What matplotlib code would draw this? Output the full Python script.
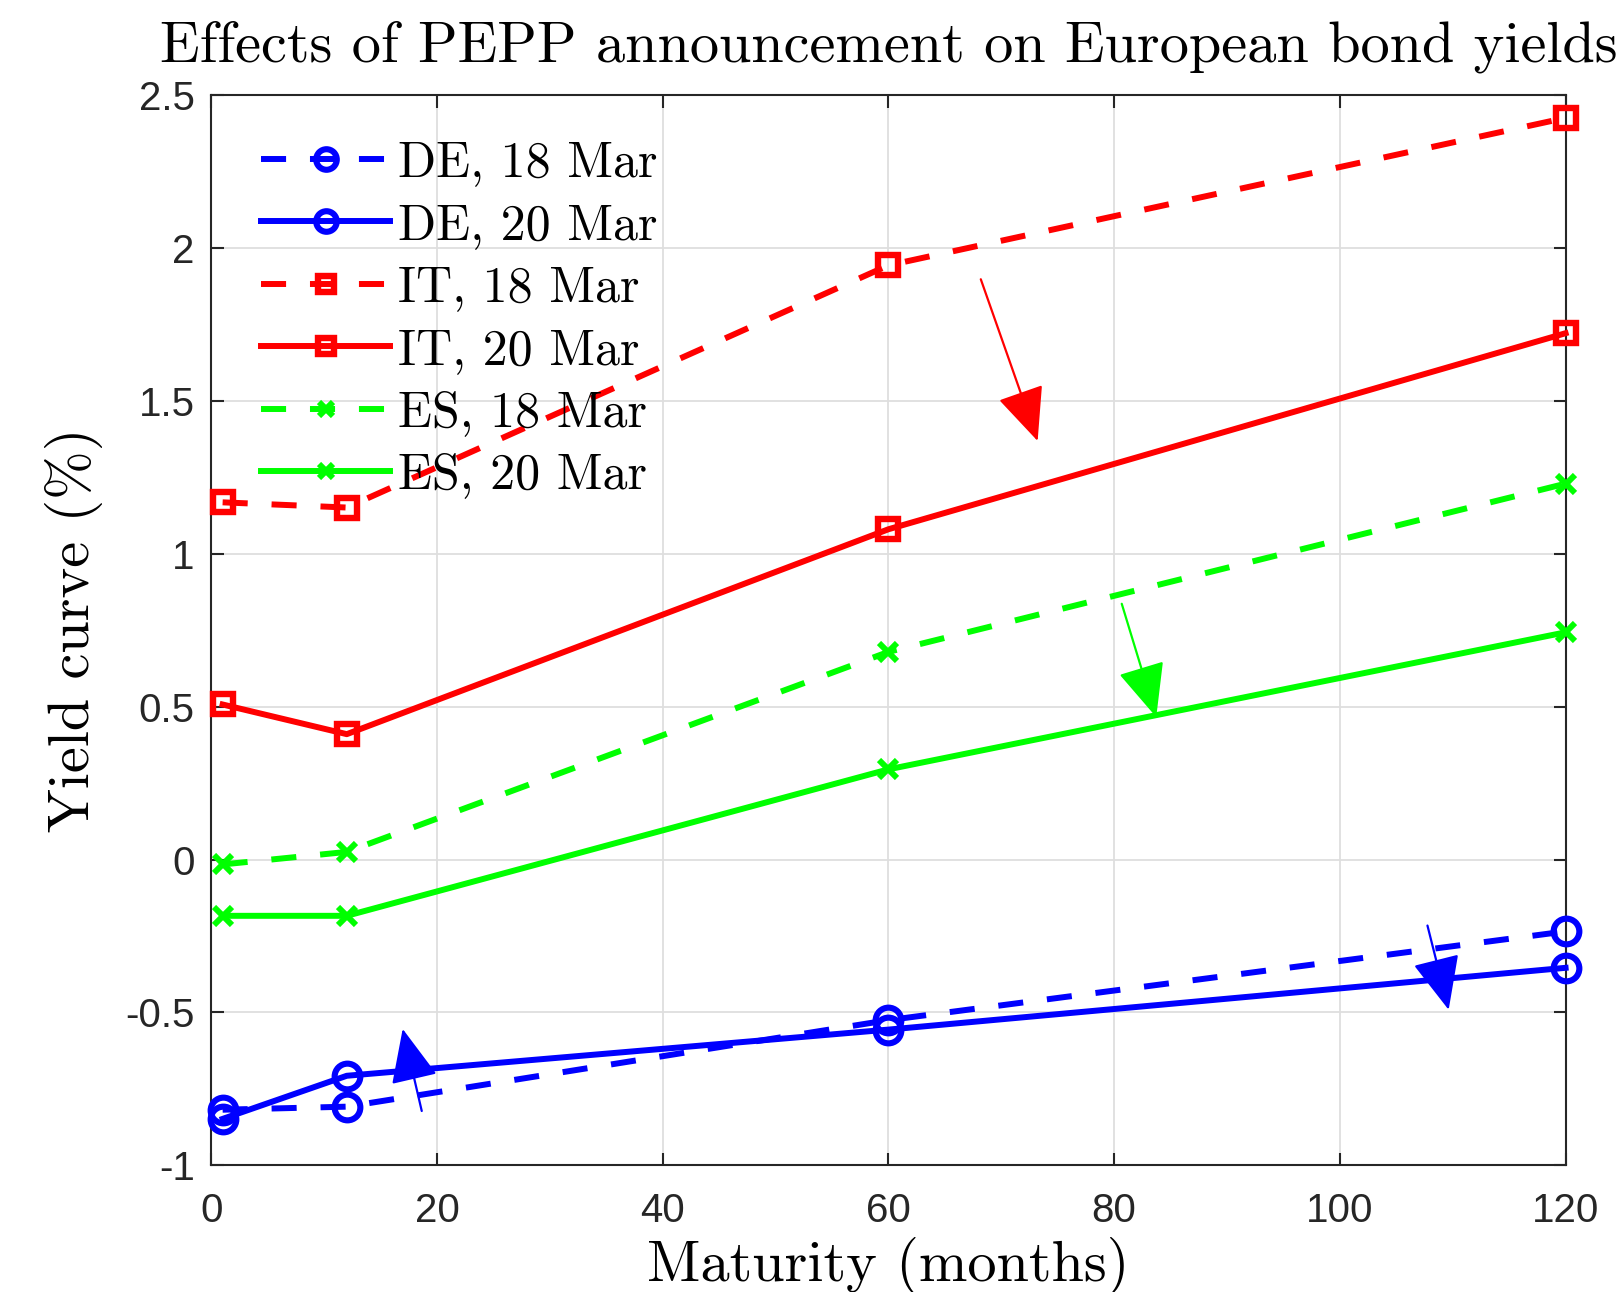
import matplotlib
matplotlib.use("Agg")
import matplotlib.pyplot as plt
from matplotlib.patches import FancyArrowPatch

plt.rcParams['axes.unicode_minus'] = False

maturity = [1, 12, 60, 120]
de_18 = [-0.818, -0.808, -0.525, -0.235]
de_20 = [-0.848, -0.707, -0.556, -0.354]
it_18 = [1.168, 1.151, 1.943, 2.425]
it_20 = [0.507, 0.410, 1.080, 1.721]
es_18 = [-0.016, 0.025, 0.679, 1.229]
es_20 = [-0.184, -0.184, 0.295, 0.743]

labels = ['DE, 18 Mar', 'DE, 20 Mar', 'IT, 18 Mar', 'IT, 20 Mar', 'ES, 18 Mar', 'ES, 20 Mar']
xticks = [0, 20, 40, 60, 80, 100, 120]
yticks = [-1, -0.5, 0, 0.5, 1, 1.5, 2, 2.5]
ytick_labels = ['-1', '-0.5', '0', '0.5', '1', '1.5', '2', '2.5']

# arrows: (x_start, y_start, x_end, y_end)
arrow_red = (68.1, 1.906, 73.3, 1.36)
arrow_green = (80.6, 0.845, 83.8, 0.457)
arrow_blue1 = (107.7, -0.207, 109.7, -0.50)
arrow_blue2 = (18.7, -0.831, 16.9, -0.545)

serif = 'cmr10'
sans = ['Liberation Sans', 'DejaVu Sans']

fig = plt.figure(figsize=(16.17, 12.92), dpi=100)
ax = fig.add_axes([0.1307, 0.098, 0.9682 - 0.1307, 0.9265 - 0.098])

lw = 4.3
dash = (4.2, 4.0)
series = [
    (de_18, 'b', 'o', '--', 18.5, 4.4),
    (de_20, 'b', 'o', '-', 18.5, 4.4),
    (it_18, 'r', 's', '--', 14, 4.6),
    (it_20, 'r', 's', '-', 14, 4.6),
    (es_18, '#00ff00', 'x', '--', 13, 4.3),
    (es_20, '#00ff00', 'x', '-', 13, 4.3),
]
for (vals, c, m, ls, ms, mew), lab in zip(series, labels):
    line, = ax.plot(maturity, vals, color=c, marker=m, linestyle=ls, lw=lw,
                    markersize=ms, markerfacecolor='none', markeredgecolor=c,
                    markeredgewidth=mew, label=lab, clip_on=False, zorder=3)
    if ls == '--':
        line.set_dashes(dash)

for (x0, y0, x1, y1), c in [(arrow_red, 'r'), (arrow_green, '#00ff00'),
                            (arrow_blue1, 'b'), (arrow_blue2, 'b')]:
    ax.add_patch(FancyArrowPatch((x0, y0), (x1, y1), arrowstyle='-|>,head_length=1.7,head_width=0.75',
                                 mutation_scale=20, color=c, lw=1.6, zorder=4))

ax.set_xlim(0, 120)
ax.set_ylim(-1, 2.5)
ax.set_xticks(xticks)
ax.set_yticks(yticks)
ax.set_yticklabels(ytick_labels)
ax.grid(True, color='#dedede', lw=1.3)
ax.set_axisbelow(True)
ax.tick_params(direction='in', top=True, right=True, length=9, width=1.5,
               labelsize=29, colors='#262626')
ax.tick_params(axis='x', pad=19)
ax.tick_params(axis='y', pad=12)
for lab in ax.get_xticklabels() + ax.get_yticklabels():
    lab.set_family(sans)
for s in ax.spines.values():
    s.set_linewidth(1.5)
    s.set_color('#262626')

ax.set_xlabel('Maturity (months)', family=serif, fontsize=42, labelpad=5)
ax.set_ylabel('Yield curve (%)', family=serif, fontsize=42, labelpad=16)
ax.set_title('Effects of PEPP announcement on European bond yields', family=serif,
             fontsize=42, pad=24)

leg = ax.legend(loc='upper left', frameon=False, prop={'family': serif, 'size': 36},
                handlelength=2.58, handletextpad=0.15, labelspacing=0.33,
                borderaxespad=0.3, bbox_to_anchor=(0.011, 0.99), markerscale=0.8)

fig.savefig('out.png', dpi=100)
